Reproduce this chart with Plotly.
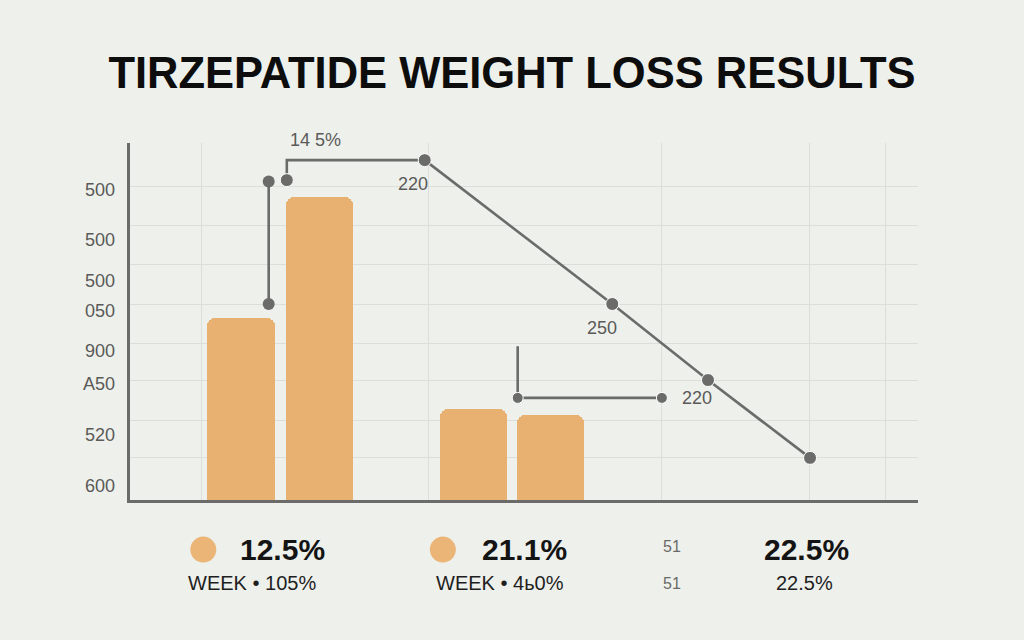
import plotly.graph_objects as go

# ---- data (main axes: x 0..100, y 0..100) ----
bar_x = [14.1, 24.05, 43.6, 53.4]
bar_y = [51.0, 84.9, 25.5, 23.8]
bar_w = [8.6, 8.5, 8.5, 8.5]

trend_x = [19.9, 19.9, 37.4, 61.2, 73.35, 86.3]
trend_y = [89.6, 95.2, 95.2, 54.9, 33.6, 11.8]
trend_marker = [13, 0, 13, 13, 13, 13]

bracket2_x = [17.6, 17.6]
bracket2_y = [89.2, 54.9]

bracket3_x = [49.2, 49.2, 67.5]
bracket3_y = [43.1, 28.6, 28.6]
bracket3_marker = [0, 11, 11]

point_labels = ["14 5%", "220", "250", "220"]
point_label_x = [23.5, 35.9, 59.9, 72.0]
point_label_y = [99.5, 88.6, 48.2, 28.6]
point_label_shift = [5, 0, 0, 0]

ytick_vals = [86.8, 72.8, 61.3, 52.9, 41.7, 32.5, 18.2, 3.9]
ytick_text = ["500", "500", "500", "050", "900", "A50", "520", "600"]
ygrid_vals = [12.0, 22.4, 33.6, 43.7, 54.9, 66.1, 76.8, 87.7, 100]
xgrid_vals = [9.1, 37.9, 67.4, 86.2, 95.9]

# ---- bottom summary row (axes: x 0..100, y 0..1) ----
legend_dot_x = [9.3, 39.7]
legend_dot_y = [0.56, 0.56]
big_vals = ["12.5%", "21.1%", "22.5%"]
big_x = [19.3, 50.1, 85.9]
big_y = 0.56
small_vals = ["WEEK \u2022 105%", "WEEK \u2022 4\u044c0%", "22.5%"]
small_x = [15.5, 46.9, 85.6]
small_y = 0.185
mid_vals = ["51", "51"]
mid_x = [68.8, 68.8]
mid_y = [0.60, 0.185]

BG = "#eef0ec"
BAR = "#e8b172"
LINE = "#6b6b69"
GRID = "#dcdeda"
FONT = "Liberation Sans"

# layout geometry
H = 640
TOP, BOTTOM = 143, 40
plot_h = H - TOP - BOTTOM
main_bottom = (H - BOTTOM - 500) / plot_h

fig = go.Figure()

fig.add_trace(go.Bar(
    x=bar_x, y=bar_y, width=bar_w,
    marker=dict(color=BAR, cornerradius=8, line=dict(width=0)),
    showlegend=False, hoverinfo="skip",
))

fig.add_trace(go.Scatter(
    x=trend_x, y=trend_y, mode="lines+markers",
    line=dict(color=LINE, width=2.6),
    marker=dict(color=LINE, size=trend_marker, opacity=1),
    showlegend=False, hoverinfo="skip", cliponaxis=False,
))
fig.add_trace(go.Scatter(
    x=bracket2_x, y=bracket2_y, mode="lines+markers",
    line=dict(color=LINE, width=2.6),
    marker=dict(color=LINE, size=12, opacity=1),
    showlegend=False, hoverinfo="skip", cliponaxis=False,
))
fig.add_trace(go.Scatter(
    x=bracket3_x, y=bracket3_y, mode="lines+markers",
    line=dict(color=LINE, width=2.6),
    marker=dict(color=LINE, size=bracket3_marker, opacity=1),
    showlegend=False, hoverinfo="skip", cliponaxis=False,
))

# dummy trace on the labelled overlay axis
fig.add_trace(go.Scatter(x=[None], y=[None], yaxis="y2", showlegend=False, hoverinfo="skip"))

# legend-like dots in the bottom row
fig.add_trace(go.Scatter(
    x=legend_dot_x, y=legend_dot_y, mode="markers", xaxis="x3", yaxis="y3",
    marker=dict(color="#ebb577", size=26, opacity=1),
    showlegend=False, hoverinfo="skip", cliponaxis=False,
))

annotations = []
for t, x, y, s in zip(point_labels, point_label_x, point_label_y, point_label_shift):
    annotations.append(dict(x=x, y=y, xref="x", yref="y", text=t, showarrow=False, yshift=s,
                            font=dict(family=FONT, size=18, color="#5a5a58")))
for t, x in zip(big_vals, big_x):
    annotations.append(dict(x=x, y=big_y, xref="x3", yref="y3", text="<b>%s</b>" % t, showarrow=False,
                            font=dict(family=FONT, size=30, color="#141414")))
for t, x in zip(small_vals, small_x):
    annotations.append(dict(x=x, y=small_y, xref="x3", yref="y3", text=t, showarrow=False,
                            font=dict(family=FONT, size=20, color="#1e1e1e")))
for t, x, y in zip(mid_vals, mid_x, mid_y):
    annotations.append(dict(x=x, y=y, xref="x3", yref="y3", text=t, showarrow=False,
                            font=dict(family=FONT, size=16, color="#6a6a68")))

fig.update_layout(
    width=1024, height=H,
    margin=dict(l=130, r=106, t=TOP, b=BOTTOM),
    paper_bgcolor=BG, plot_bgcolor=BG,
    bargap=0,
    title=dict(text="<b>TIRZEPATIDE WEIGHT LOSS RESULTS</b>", x=0.5, xref="container",
               y=1 - 73 / 640, yref="container", yanchor="middle", xanchor="center",
               font=dict(family=FONT, size=43.5, color="#0d0d0d")),
    xaxis=dict(range=[0, 100], tickvals=xgrid_vals, showticklabels=False, ticks="",
               showgrid=True, gridcolor=GRID, gridwidth=1, zeroline=False, anchor="y",
               showline=True, linecolor=LINE, linewidth=2.5, fixedrange=True),
    yaxis=dict(range=[0, 100], domain=[main_bottom, 1], tickvals=ygrid_vals,
               showticklabels=False, ticks="", anchor="x",
               showgrid=True, gridcolor=GRID, gridwidth=1, zeroline=False,
               showline=True, linecolor=LINE, linewidth=2.5, fixedrange=True),
    yaxis2=dict(range=[0, 100], overlaying="y", side="left", tickvals=ytick_vals,
                ticktext=ytick_text, showgrid=False, zeroline=False, showline=False,
                ticks="", ticklabelstandoff=14,
                tickfont=dict(family=FONT, size=18, color="#5a5a58")),
    xaxis3=dict(range=[0, 100], domain=[0, 1], anchor="y3", visible=False, fixedrange=True),
    yaxis3=dict(range=[0, 1], domain=[0, main_bottom * 0.9], anchor="x3", visible=False,
                fixedrange=True),
    annotations=annotations,
    font=dict(family=FONT),
)

fig.write_html("out.html")
